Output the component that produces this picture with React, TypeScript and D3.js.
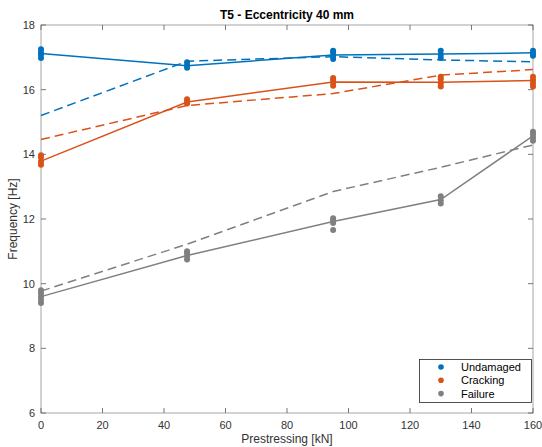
import React from "react";
import * as d3 from "d3";

const xValues = [0, 47.5, 95, 130, 160];
const categories = ["Undamaged", "Cracking", "Failure"];
const colors = ["#0072BD", "#D95319", "#808080"];

const undamagedSolid = [17.12, 16.74, 17.07, 17.1, 17.14];
const undamagedDashed = [15.2, 16.88, 17.02, 16.92, 16.86];
const crackingSolid = [13.79, 15.62, 16.24, 16.23, 16.28];
const crackingDashed = [14.46, 15.51, 15.88, 16.45, 16.62];
const failureSolid = [9.6, 10.87, 11.92, 12.6, 14.57];
const failureDashed = [9.77, 11.22, 12.85, 13.6, 14.29];

const undamagedPoints = [
  [16.98, 17.08, 17.15, 17.25],
  [16.68, 16.75, 16.85],
  [16.95, 17.05, 17.15, 17.2],
  [16.98, 17.08, 17.2],
  [17.05, 17.12, 17.2],
];
const crackingPoints = [
  [13.68, 13.78, 13.9, 13.97],
  [15.57, 15.65, 15.7],
  [16.12, 16.22, 16.3, 16.36],
  [16.1, 16.2, 16.32, 16.4],
  [16.1, 16.2, 16.3, 16.4],
];
const failurePoints = [
  [9.4, 9.5, 9.6, 9.7, 9.8],
  [10.75, 10.85, 10.95, 11.0],
  [11.66, 11.88, 11.95, 12.02],
  [12.48, 12.58, 12.7],
  [14.42, 14.52, 14.62, 14.7],
];

const xTicks = [0, 20, 40, 60, 80, 100, 120, 140, 160];
const yTicks = [6, 8, 10, 12, 14, 16, 18];

const W = 542;
const H = 447;
const left = 41;
const right = 533;
const top = 25;
const bottom = 413;
const FONT = "'Liberation Sans', Arial, Helvetica, sans-serif";

export default function App() {
  const x = d3.scaleLinear().domain([0, 160]).range([left, right]);
  const y = d3.scaleLinear().domain([6, 18]).range([bottom, top]);
  const line = d3
    .line<number>()
    .x((_, i) => x(xValues[i]))
    .y((d) => y(d));

  const solids = [undamagedSolid, crackingSolid, failureSolid];
  const dashed = [undamagedDashed, crackingDashed, failureDashed];
  const points = [undamagedPoints, crackingPoints, failurePoints];

  const axisColor = "#a6a6a6";
  const tickColor = "#555";
  const textColor = "#333";
  const tl = 5;

  return (
    <svg
      width={W}
      height={H}
      style={{ position: "absolute", left: 0, top: 0, background: "#fff" }}
      fontFamily={FONT}
    >
      <rect x={0} y={0} width={W} height={H} fill="#fff" />
      {/* box */}
      <rect
        x={left}
        y={top}
        width={right - left}
        height={bottom - top}
        fill="none"
        stroke={axisColor}
        strokeWidth={1}
      />
      {/* ticks */}
      {xTicks.map((t) => (
        <g key={"xt" + t}>
          <line x1={x(t)} x2={x(t)} y1={bottom} y2={bottom - tl} stroke={tickColor} strokeWidth={0.8} />
          <line x1={x(t)} x2={x(t)} y1={top} y2={top + tl} stroke={tickColor} strokeWidth={0.8} />
          <text x={x(t)} y={429} textAnchor="middle" fontSize={11} fill={textColor}>
            {t}
          </text>
        </g>
      ))}
      {yTicks.map((t) => (
        <g key={"yt" + t}>
          <line x1={left} x2={left + tl} y1={y(t)} y2={y(t)} stroke={tickColor} strokeWidth={0.8} />
          <line x1={right} x2={right - tl} y1={y(t)} y2={y(t)} stroke={tickColor} strokeWidth={0.8} />
          <text x={35} y={y(t) + 4} textAnchor="end" fontSize={11} fill={textColor}>
            {t}
          </text>
        </g>
      ))}
      {/* dashed lines */}
      {dashed.map((s, i) => (
        <path
          key={"d" + i}
          d={line(s) || ""}
          fill="none"
          stroke={colors[i]}
          strokeWidth={1.5}
          strokeDasharray="9,5"
        />
      ))}
      {/* solid lines */}
      {solids.map((s, i) => (
        <path key={"s" + i} d={line(s) || ""} fill="none" stroke={colors[i]} strokeWidth={1.5} />
      ))}
      {/* points */}
      {points.map((grp, i) =>
        grp.map((vals, j) =>
          vals.map((v, k) => (
            <circle key={`p${i}-${j}-${k}`} cx={x(xValues[j])} cy={y(v)} r={3} fill={colors[i]} />
          ))
        )
      )}
      {/* title */}
      <text x={(left + right) / 2} y={19} textAnchor="middle" fontSize={12} fontWeight="bold" fill="#000">
        T5 - Eccentricity 40 mm
      </text>
      {/* axis labels */}
      <text x={(left + right) / 2} y={443} textAnchor="middle" fontSize={12} fill={textColor}>
        Prestressing [kN]
      </text>
      <text
        transform={`translate(17, ${(top + bottom) / 2}) rotate(-90)`}
        textAnchor="middle"
        fontSize={12}
        fill={textColor}
      >
        Frequency [Hz]
      </text>
      {/* legend */}
      <rect x={419.5} y={359.5} width={112} height={43} fill="#fff" stroke="#262626" strokeWidth={0.8} />
      {categories.map((c, i) => (
        <g key={"lg" + i}>
          <circle cx={441} cy={367 + i * 13.3} r={2.8} fill={colors[i]} />
          <text x={461} y={371 + i * 13.3} fontSize={11} fill="#000">
            {c}
          </text>
        </g>
      ))}
    </svg>
  );
}
